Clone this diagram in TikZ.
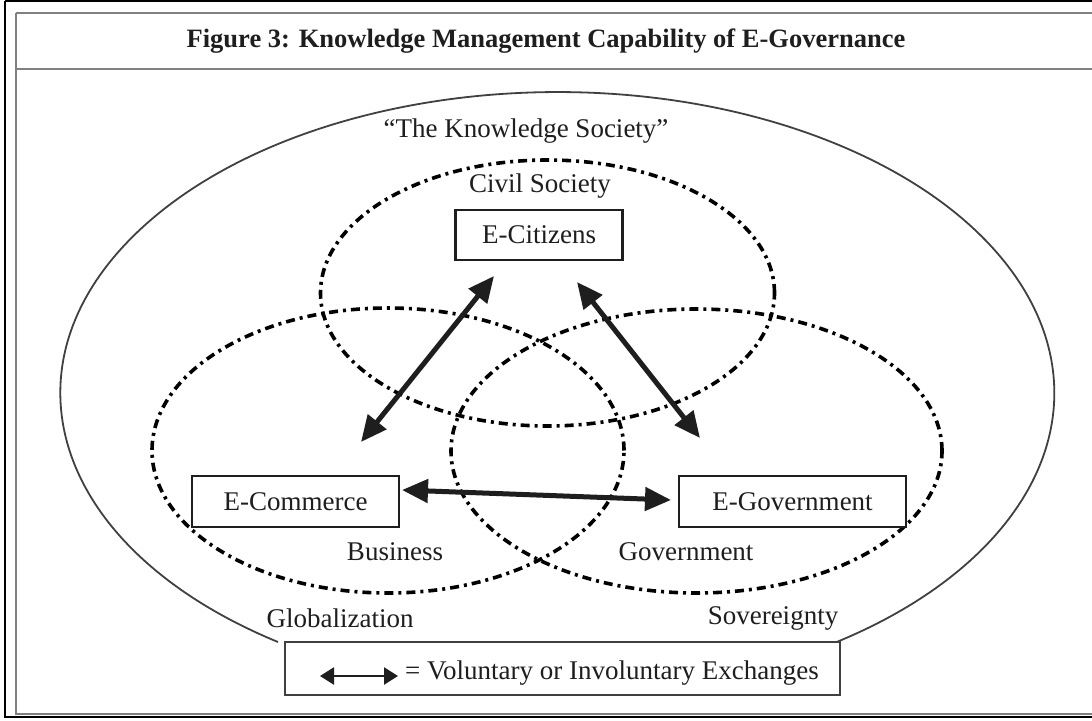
\documentclass[tikz,border=0pt]{standalone}
\usepackage{fontspec}
\setmainfont{Liberation Serif}
\usetikzlibrary{arrows.meta}
\definecolor{ink}{HTML}{1E1E1E}
\definecolor{frame}{HTML}{808080}
\tikzset{
  boxnode/.style={draw=ink, line width=2.5pt, fill=white, inner sep=0pt, font=\fontsize{27}{29}\selectfont, text=ink},
  lbl/.style={font=\fontsize{27}{29}\selectfont, text=ink, inner sep=0pt},
  ddot/.style={draw=black, line width=3.6pt, dash pattern=on 9pt off 5pt on 3pt off 5pt},
  exch/.style={ink, line width=5pt, {Triangle[length=26pt,width=23pt]}-{Triangle[length=26pt,width=23pt]}},
  legarrow/.style={ink, line width=2.4pt, {Triangle[length=14pt,width=17pt]}-{Triangle[length=14pt,width=17pt]}},
}
\begin{document}
\begin{tikzpicture}[x=1pt,y=-1pt]
\useasboundingbox (0,0) rectangle (1092,720);
% frames
\draw[black, line width=2.2pt] (5,1) -- (1100,1);
\draw[black, line width=2.2pt] (5,1) -- (5,717) -- (1100,717);
\draw[frame, line width=2pt] (16,13) -- (1100,13);
\draw[frame, line width=2pt] (16,13) -- (16,714) -- (1100,714);
\draw[frame, line width=2pt] (16,69) -- (1100,69);
\node[font=\bfseries\fontsize{26.5}{28}\selectfont, text=ink, inner sep=0pt] (title) at (546,41) {Figure 3: Knowledge Management Capability of E-Governance};
% outer ellipse
\draw[ink!85, line width=1.8pt] (278,642) arc[start angle=235.8, end angle=-55.8, x radius=497pt, y radius=301pt];
% dash-dot circles
\draw[ddot] (547.5,293) ellipse[x radius=227pt, y radius=133pt];
\draw[ddot] (388,450.5) ellipse[x radius=236pt, y radius=142.5pt];
\draw[ddot] (696.5,451) ellipse[x radius=245.5pt, y radius=142pt];
% boxes
\node[boxnode, minimum width=167pt, minimum height=50pt] (cit) at (539,235) {E-Citizens};
\node[boxnode, minimum width=207pt, minimum height=51pt] (com) at (295.5,501.5) {E-Commerce};
\node[boxnode, minimum width=227pt, minimum height=51pt] (gov) at (792.5,501.5) {E-Government};
% labels
\node[lbl] (ks) at (526,131) {“The Knowledge Society”};
\node[lbl] (cs) at (540,186) {Civil Society};
\node[lbl] (bus) at (395,552) {Business};
\node[lbl] (govl) at (686,552) {Government};
\node[lbl] (glob) at (340,618) {Globalization};
\node[lbl] (sov) at (773,618) {Sovereignty};
% exchange arrows
\coordinate (a1) at (494,276);
\coordinate (a2) at (361,442);
\coordinate (b1) at (577,282);
\coordinate (b2) at (700,438);
\coordinate (c1) at (402,490);
\coordinate (c2) at (671,500);
\draw[exch] (a1) -- (a2);
\draw[exch] (b1) -- (b2);
\draw[exch] (c1) -- (c2);
% legend
\node[draw=ink!85, line width=2.2pt, fill=white, minimum width=555pt, minimum height=53pt, inner sep=0pt] (leg) at (562.5,668.5) {};
\coordinate (l1) at (320,676);
\coordinate (l2) at (398,676);
\draw[legarrow] (l1) -- (l2);
\node[lbl, anchor=west] (legt) at (405,673) {= Voluntary or Involuntary Exchanges};
\end{tikzpicture}
\end{document}
